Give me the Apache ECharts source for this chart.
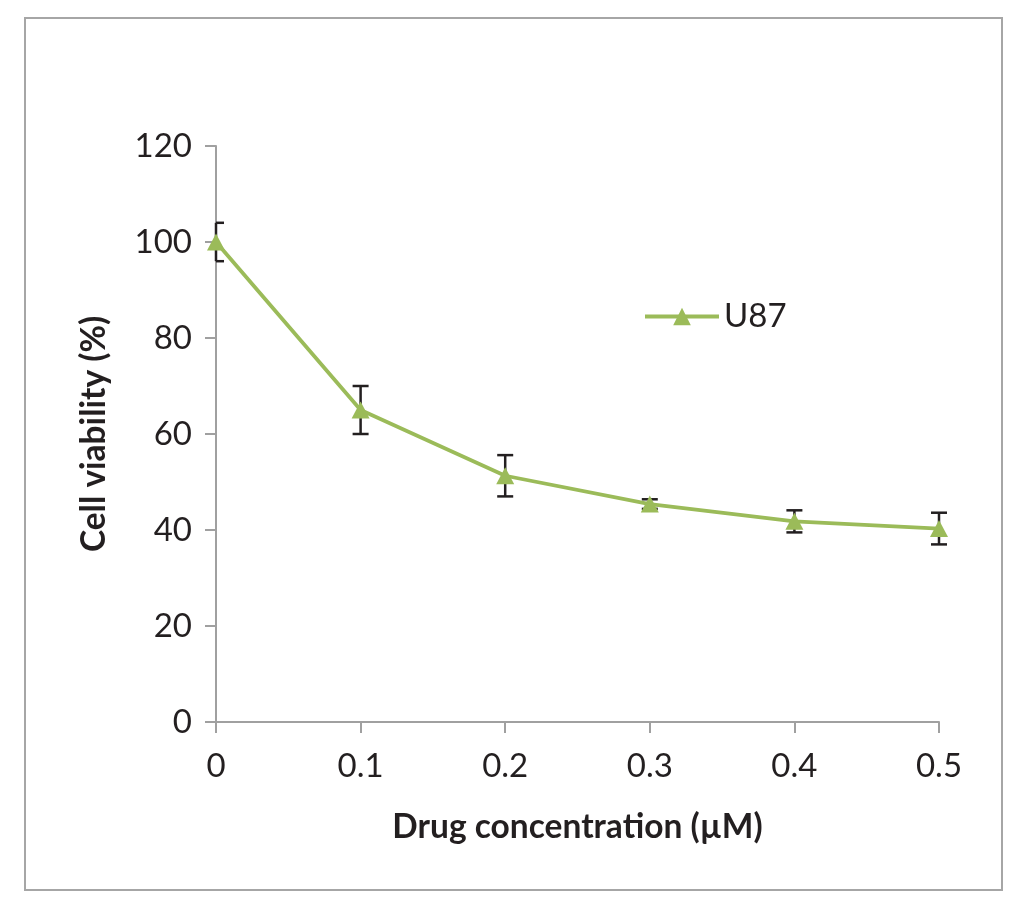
<!DOCTYPE html>
<html>
<head>
<meta charset="utf-8">
<script src="https://cdn.jsdelivr.net/npm/echarts@6/dist/echarts.min.js"></script>
<style>
html,body{margin:0;padding:0;background:#fff;}
#chart{width:1024px;height:908px;}
</style>
</head>
<body>
<div id="chart"></div>
<script>
var concentrations = [0, 0.1, 0.2, 0.3, 0.4, 0.5];
var viability = [100, 65, 51.3, 45.4, 41.8, 40.3];
var errors = [4, 5, 4.3, 1, 2.3, 3.3];
var seriesName = 'U87';
var xTitle = 'Drug concentration (µM)';
var yTitle = 'Cell viability (%)';

var lineData = concentrations.map(function (c, i) { return [c, viability[i]]; });
var errData = concentrations.map(function (c, i) { return [c, viability[i] - errors[i], viability[i] + errors[i]]; });

var FONT = 'Lato';
var chart = echarts.init(document.getElementById('chart'));
chart.setOption({
  backgroundColor: '#fff',
  animation: false,
  graphic: [{
    type: 'rect',
    shape: { x: 25, y: 18, width: 977, height: 872 },
    style: { fill: 'none', stroke: '#a6a6a6', lineWidth: 2 },
    silent: true
  }],
  legend: {
    left: 638, top: 295,
    itemWidth: 74, itemHeight: 22, itemGap: 10,
    lineStyle: { width: 4, color: '#9bbb59' },
    itemStyle: { color: '#9bbb59' },
    textStyle: { fontFamily: FONT, fontSize: 33, color: '#231f20' },
    data: [seriesName]
  },
  grid: { left: 216, right: 85, top: 146, bottom: 186, containLabel: false },
  xAxis: {
    type: 'value', min: 0, max: 0.5, interval: 0.1,
    name: xTitle, nameLocation: 'middle', nameGap: 88,
    nameTextStyle: { fontFamily: FONT, fontSize: 33.5, fontWeight: 'bold', color: '#231f20' },
    axisLine: { lineStyle: { color: '#a0a0a0', width: 2 } },
    axisTick: { show: true, length: 11, lineStyle: { color: '#a0a0a0', width: 2 } },
    axisLabel: { fontFamily: FONT, fontSize: 33, color: '#231f20', margin: 28,
      formatter: function (v) { return String(Math.round(v * 10) / 10); } },
    splitLine: { show: false }
  },
  yAxis: {
    type: 'value', min: 0, max: 120, interval: 20,
    name: yTitle, nameLocation: 'middle', nameGap: 105, nameRotate: 90,
    nameTextStyle: { fontFamily: FONT, fontSize: 33.5, fontWeight: 'bold', color: '#231f20' },
    axisLine: { show: true, lineStyle: { color: '#a0a0a0', width: 2 } },
    axisTick: { show: true, length: 11, lineStyle: { color: '#a0a0a0', width: 2 } },
    axisLabel: { fontFamily: FONT, fontSize: 33, color: '#231f20', margin: 24 },
    splitLine: { show: false }
  },
  series: [{
    name: seriesName,
    type: 'line',
    data: lineData,
    symbol: 'triangle',
    symbolSize: [18, 17],
    lineStyle: { color: '#9bbb59', width: 3.8 },
    itemStyle: { color: '#9bbb59' },
    z: 3
  }, {
    type: 'custom',
    clip: false,
    data: errData,
    z: 2,
    renderItem: function (params, api) {
      var x = api.value(0);
      var lo = api.coord([x, api.value(1)]);
      var hi = api.coord([x, api.value(2)]);
      var w = 8;
      var left = Math.max(lo[0] - w, params.coordSys.x);
      var st = { stroke: '#231f20', lineWidth: 2.5, fill: 'none' };
      return {
        type: 'group',
        children: [
          { type: 'line', shape: { x1: lo[0], y1: lo[1], x2: hi[0], y2: hi[1] }, style: st },
          { type: 'line', shape: { x1: left, y1: hi[1], x2: hi[0] + w, y2: hi[1] }, style: st },
          { type: 'line', shape: { x1: left, y1: lo[1], x2: lo[0] + w, y2: lo[1] }, style: st }
        ]
      };
    }
  }]
});
</script>
</body>
</html>
